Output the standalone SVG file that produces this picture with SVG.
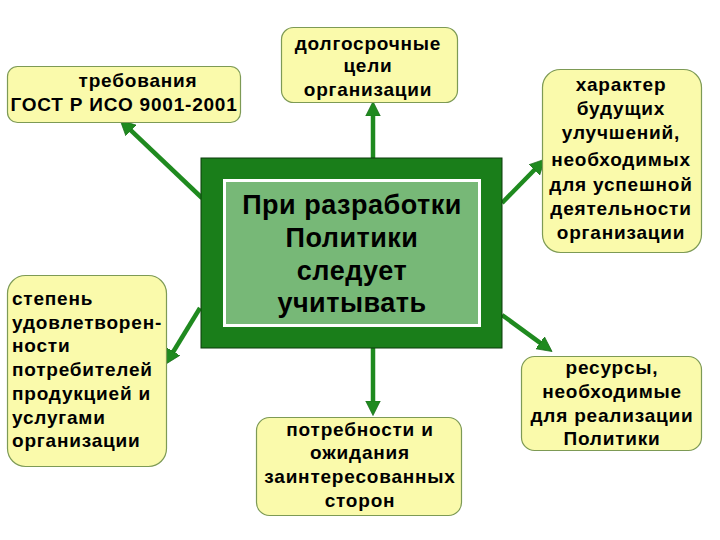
<svg xmlns="http://www.w3.org/2000/svg" width="720" height="540" viewBox="0 0 720 540">
<style>
.box{fill:#fafaab;stroke:#7d9a55;stroke-width:1.2}
.t{font-family:"Liberation Sans",Arial,sans-serif;font-weight:bold;font-size:19px;letter-spacing:0.8px;fill:#000;text-anchor:middle}
.tl{text-anchor:start}
.ct{font-family:"Liberation Sans",Arial,sans-serif;font-weight:bold;font-size:27px;letter-spacing:0.5px;fill:#000;text-anchor:middle}
.arr{stroke:#1f8a1f;stroke-width:4.5;fill:none;marker-end:url(#ah)}
</style>
<defs>
<marker id="ah" markerUnits="userSpaceOnUse" markerWidth="16" markerHeight="16" viewBox="0 0 14 14" refX="2" refY="7" orient="auto">
<path d="M0,0.5 L13,7 L0,13.5 Z" fill="#1f8a1f" stroke="#156815" stroke-width="0.6"/>
</marker>
</defs>
<rect width="720" height="540" fill="#ffffff"/>
<g id="connectors">
<line class="arr" x1="202" y1="198" x2="129.3" y2="128.9"/>
<line class="arr" x1="373" y1="158" x2="373" y2="114"/>
<line class="arr" x1="502" y1="203" x2="536" y2="168.2"/>
<line class="arr" x1="200" y1="308" x2="172.2" y2="353.5"/>
<line class="arr" x1="373" y1="348" x2="373" y2="403"/>
<line class="arr" x1="502" y1="315" x2="541.9" y2="344.1"/>
</g>
<g id="center">
<rect x="201" y="158" width="301" height="190" fill="#1a7e1a" stroke="#0b3b0b" stroke-width="1"/>
<rect x="223" y="179" width="258" height="148" fill="#ffffff"/>
<rect x="226" y="182" width="252" height="142" fill="#77b877"/>
<text class="ct" x="352" y="214">При разработки</text>
<text class="ct" x="352" y="247">Политики</text>
<text class="ct" x="352" y="280">следует</text>
<text class="ct" x="352" y="312">учитывать</text>
</g>
<g id="node-gost">
<rect class="box" x="7.5" y="66.5" width="233" height="56" rx="10"/>
<text class="t" x="138" y="87">требования</text>
<text class="t" x="124" y="111">ГОСТ Р ИСО 9001-2001</text>
</g>
<g id="node-goals">
<rect class="box" x="281.5" y="27.5" width="176" height="75" rx="12"/>
<text class="t" x="368" y="50">долгосрочные</text>
<text class="t" x="368" y="72">цели</text>
<text class="t" x="368" y="96">организации</text>
</g>
<g id="node-improve">
<rect class="box" x="542.5" y="69.5" width="159" height="183" rx="18"/>
<text class="t" x="621" y="91">характер</text>
<text class="t" x="621" y="115">будущих</text>
<text class="t" x="621" y="139">улучшений,</text>
<text class="t" x="621" y="166">необходимых</text>
<text class="t" x="621" y="191">для успешной</text>
<text class="t" x="621" y="215">деятельности</text>
<text class="t" x="621" y="239">организации</text>
</g>
<g id="node-satisfaction">
<rect class="box" x="7.5" y="275.5" width="159" height="191" rx="18"/>
<text class="t tl" x="12" y="305">степень</text>
<text class="t tl" x="12" y="329">удовлетворен-</text>
<text class="t tl" x="12" y="352">ности</text>
<text class="t tl" x="12" y="376">потребителей</text>
<text class="t tl" x="12" y="400">продукцией и</text>
<text class="t tl" x="12" y="424">услугами</text>
<text class="t tl" x="12" y="447">организации</text>
</g>
<g id="node-stakeholders">
<rect class="box" x="256.5" y="417.5" width="205" height="98" rx="13"/>
<text class="t" x="360" y="436">потребности и</text>
<text class="t" x="360" y="459">ожидания</text>
<text class="t" x="360" y="483">заинтересованных</text>
<text class="t" x="360" y="507">сторон</text>
</g>
<g id="node-resources">
<rect class="box" x="521.5" y="356.5" width="180" height="94" rx="13"/>
<text class="t" x="612" y="374">ресурсы,</text>
<text class="t" x="612" y="398">необходимые</text>
<text class="t" x="612" y="422">для реализации</text>
<text class="t" x="612" y="445">Политики</text>
</g>
</svg>
